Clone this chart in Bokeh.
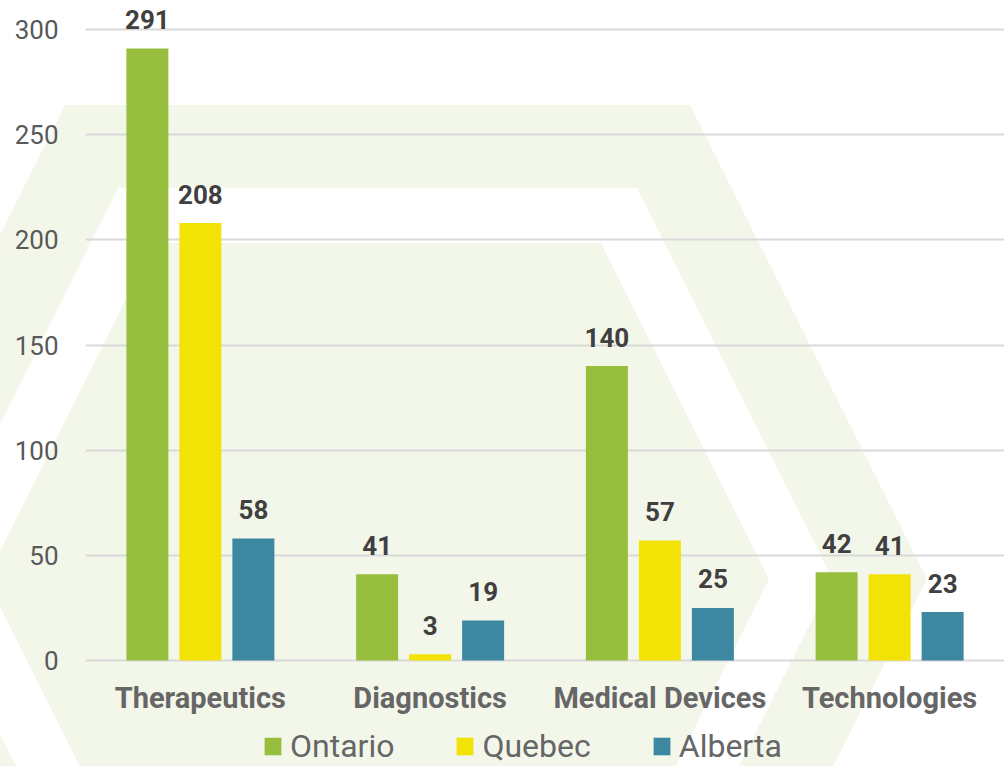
from urllib.parse import quote
from bokeh.plotting import figure
from bokeh.models import (ColumnDataSource, FactorRange, Range1d, Legend, LegendItem, FixedTicker)
from bokeh.transform import dodge
from bokeh.core.properties import value
from bokeh.embed import file_html
from bokeh.resources import INLINE

# ---- data ----
categories = ["Therapeutics", "Diagnostics", "Medical Devices", "Technologies"]
series = ["Ontario", "Quebec", "Alberta"]
ontario = [291, 41, 140, 42]
quebec = [208, 3, 57, 41]
alberta = [58, 19, 25, 23]
y_ticks = [0, 50, 100, 150, 200, 250, 300]
colors = ["#97BF3D", "#F2E206", "#3E87A0"]

FONT = "Roboto"
W, H = 1004, 766

src = ColumnDataSource(dict(cat=categories, Ontario=ontario, Quebec=quebec, Alberta=alberta,
                            Ontario_t=[str(v) for v in ontario],
                            Quebec_t=[str(v) for v in quebec],
                            Alberta_t=[str(v) for v in alberta]))

p = figure(x_range=FactorRange(*categories), y_range=Range1d(-50.4, 313.8),
           width=W, height=H, output_backend="svg", toolbar_location=None,
           min_border_left=85, min_border_right=0, min_border_top=0, min_border_bottom=0)
p.background_fill_color = None
p.border_fill_color = None
p.outline_line_color = None

# ---- decorative hexagon watermark behind the transparent canvas ----
def hexagon(cx, cy, half_top, half_h):
    pts = [(cx - half_top, cy - half_h), (cx + half_top, cy - half_h),
           (cx + half_top + 0.5 * half_h, cy), (cx + half_top, cy + half_h),
           (cx - half_top, cy + half_h), (cx - half_top - 0.5 * half_h, cy)]
    return " ".join(f"{x:.1f},{y:.1f}" for x, y in pts)

svg = (f"<svg xmlns='http://www.w3.org/2000/svg' width='{W}' height='{H}'>"
       f"<rect width='{W}' height='{H}' fill='#FFFFFF'/>"
       f"<polygon points='{hexagon(377.5, 579, 312.5, 474)}' fill='#F3F7EA'/>"
       f"<polygon points='{hexagon(377.5, 579, 259.5, 391)}' fill='#FFFFFF'/>"
       f"<polygon points='{hexagon(377.5, 579, 223.5, 336)}' fill='#F3F7EA'/>"
       f"</svg>")
p.styles = {"background-image": f'url("data:image/svg+xml,{quote(svg)}")',
            "background-repeat": "no-repeat",
            "background-position": "0 0"}

# ---- bars ----
group_px = (W - 85) / len(categories)
step = 53 / group_px
bw = 42 / group_px
offsets = [-step, 0, step]
items = []
for s, off, col in zip(series, offsets, colors):
    r = p.vbar(x=dodge("cat", off, range=p.x_range), top=s, width=bw, source=src,
               fill_color=col, line_color=None)
    p.text(x=dodge("cat", off, range=p.x_range), y=s, text=s + "_t", source=src,
           text_font=value(FONT), text_font_style="bold", text_font_size="26px",
           text_color="#404040", text_align="center", text_baseline="alphabetic",
           y_offset=-29)
    items.append(LegendItem(label=s, renderers=[r]))

# ---- axes & grid ----
p.xgrid.grid_line_color = None
p.ygrid.ticker = FixedTicker(ticks=y_ticks)
p.ygrid.grid_line_color = "#D9D9D9"
p.ygrid.grid_line_width = 2

p.yaxis.ticker = FixedTicker(ticks=y_ticks)
p.yaxis.axis_line_color = None
p.yaxis.major_tick_line_color = None
p.yaxis.minor_tick_line_color = None
p.yaxis.major_tick_in = 0
p.yaxis.major_tick_out = 0
p.yaxis.major_label_standoff = 27
p.yaxis.major_label_text_font = FONT
p.yaxis.major_label_text_font_size = "26px"
p.yaxis.major_label_text_color = "#595959"

p.xaxis.fixed_location = 0
p.xaxis.axis_line_color = None
p.xaxis.major_tick_line_color = None
p.xaxis.major_tick_in = 0
p.xaxis.major_tick_out = 0
p.xaxis.major_label_standoff = 21
p.xaxis.major_label_text_font = FONT
p.xaxis.major_label_text_font_style = "bold"
p.xaxis.major_label_text_font_size = "29px"
p.xaxis.major_label_text_color = "#666666"

legend = Legend(items=items, orientation="horizontal", location=(177, 1),
                label_text_font=FONT, label_text_font_size="32px", label_text_color="#666666",
                glyph_width=21, glyph_height=22, label_standoff=7, spacing=60,
                border_line_color=None, background_fill_alpha=0, padding=0, margin=0)
p.add_layout(legend, "center")

open("out.html", "w").write(file_html(p, INLINE))
